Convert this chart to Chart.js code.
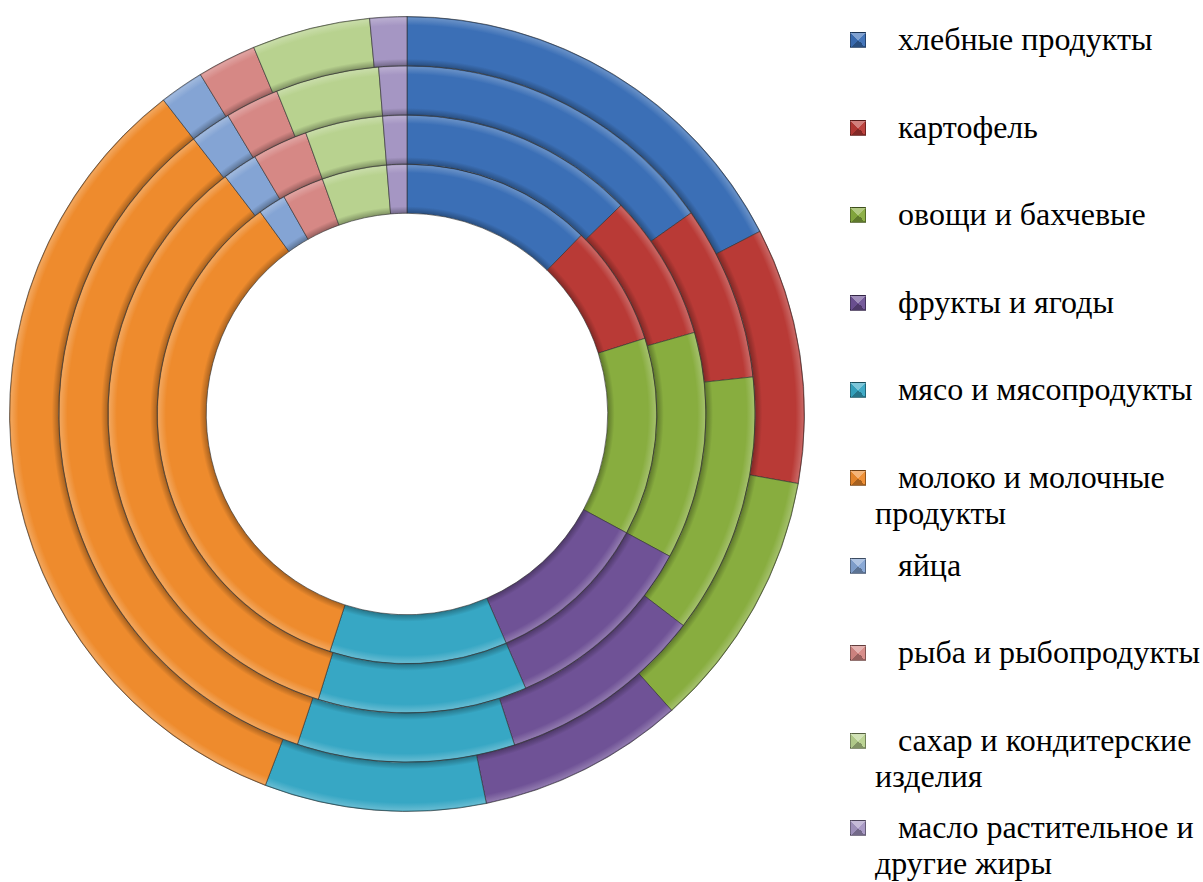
<!DOCTYPE html>
<html lang="ru">
<head>
<meta charset="utf-8">
<title>Структура потребления продуктов питания</title>
<script src="https://cdn.jsdelivr.net/npm/chart.js@4.4.1/dist/chart.umd.min.js"></script>
<style>
  html, body { margin: 0; padding: 0; background: #fff; }
  body { width: 1203px; height: 882px; position: relative; overflow: hidden; }
  #chartBox { position: absolute; left: 9px; top: 16px; width: 796px; height: 796px; }
  .item {
    position: absolute; left: 875px; font-size: 32px; line-height: 36px;
    font-family: "Liberation Serif", "Times New Roman", serif;
    color: #000; white-space: nowrap;
  }
  .item .first { padding-left: 23px; }
  .mark {
    position: absolute; left: 850px; width: 16px; height: 16px;
    box-sizing: border-box; border: 1px solid rgba(0,0,0,0.35);
  }
</style>
</head>
<body>
<div id="chartBox"><canvas id="rings"></canvas></div>
<div id="legend"></div>

<script>
// категории (многострочные подписи - как в легенде)
const labels = [
  'хлебные продукты',
  'картофель',
  'овощи и бахчевые',
  'фрукты и ягоды',
  'мясо и мясопродукты',
  ['молоко и молочные', 'продукты'],
  'яйца',
  'рыба и рыбопродукты',
  ['сахар и кондитерские', 'изделия'],
  ['масло растительное и', 'другие жиры']
];

// доли, % (снаружи внутрь)
const ring1 = [17.4, 10.4, 10.6, 8.4, 9.0, 33.7, 1.8, 2.4, 4.8, 1.5];
const ring2 = [15.2, 8.1, 12.1, 9.6, 10.1, 34.4, 1.9, 2.5, 4.8, 1.3];
const ring3 = [12.7, 7.9, 12.3, 10.6, 11.3, 34.8, 1.9, 3.0, 4.2, 1.3];
const ring4 = [12.3, 7.8, 12.8, 10.6, 11.5, 35.0, 1.8, 2.7, 4.2, 1.3];

const colors = [
  '#3b6fb6', '#b93a36', '#88ad3f', '#6f5296', '#37a7c4',
  '#ee8b2d', '#84a4d4', '#d68885', '#b8d28f', '#a596c3'
];

// осветлить / затемнить hex
function shade(hex, k) {
  const n = parseInt(hex.slice(1), 16);
  const ch = [(n >> 16) & 255, (n >> 8) & 255, n & 255].map(c => {
    const v = k >= 0 ? c + (255 - c) * k : c * (1 + k);
    return Math.round(Math.max(0, Math.min(255, v)));
  });
  return 'rgb(' + ch.join(',') + ')';
}

// объёмная заливка кольца (рельеф)
function ringFill(ctx) {
  const base = colors[ctx.dataIndex];
  const chart = ctx.chart;
  const area = chart.chartArea;
  const ctrl = chart.getDatasetMeta(ctx.datasetIndex).controller;
  if (!area || !ctrl.outerRadius) return base;
  const cx = (area.left + area.right) / 2;
  const cy = (area.top + area.bottom) / 2;
  const g = chart.ctx.createRadialGradient(cx, cy, ctrl.innerRadius, cx, cy, ctrl.outerRadius);
  g.addColorStop(0, shade(base, -0.3));
  g.addColorStop(0.14, base);
  g.addColorStop(0.82, base);
  g.addColorStop(0.97, shade(base, 0.22));
  g.addColorStop(1, shade(base, -0.2));
  return g;
}

const rings = [ring1, ring2, ring3, ring4];

new Chart(document.getElementById('rings'), {
  type: 'doughnut',
  data: {
    labels,
    datasets: rings.map(r => ({
      data: r,
      backgroundColor: ringFill,
      borderColor: 'rgba(45,45,45,0.6)',
      borderWidth: 1,
      hoverOffset: 0
    }))
  },
  options: {
    responsive: true,
    maintainAspectRatio: false,
    animation: false,
    cutout: '50.5%',
    layout: { padding: 0 },
    plugins: {
      legend: { display: false },
      tooltip: { enabled: false }
    }
  }
});

// легенда справа
const legend = document.getElementById('legend');
labels.forEach((lab, i) => {
  const baseline = 50 + i * 87.6;
  const lines = Array.isArray(lab) ? lab : [lab];
  const c = colors[i];

  const mark = document.createElement('div');
  mark.className = 'mark';
  mark.style.top = (baseline - 18) + 'px';
  mark.style.background = 'conic-gradient(from -45deg, ' +
    shade(c, 0.35) + ' 0 90deg, ' + shade(c, 0.05) + ' 90deg 180deg, ' +
    shade(c, -0.3) + ' 180deg 270deg, ' + shade(c, -0.05) + ' 270deg 360deg)';
  legend.appendChild(mark);

  const item = document.createElement('div');
  item.className = 'item';
  item.style.top = (baseline - 29) + 'px';
  item.innerHTML = lines.map((t, j) =>
    j === 0 ? '<span class="first">' + t + '</span>' : t).join('<br>');
  legend.appendChild(item);
});
</script>
</body>
</html>
